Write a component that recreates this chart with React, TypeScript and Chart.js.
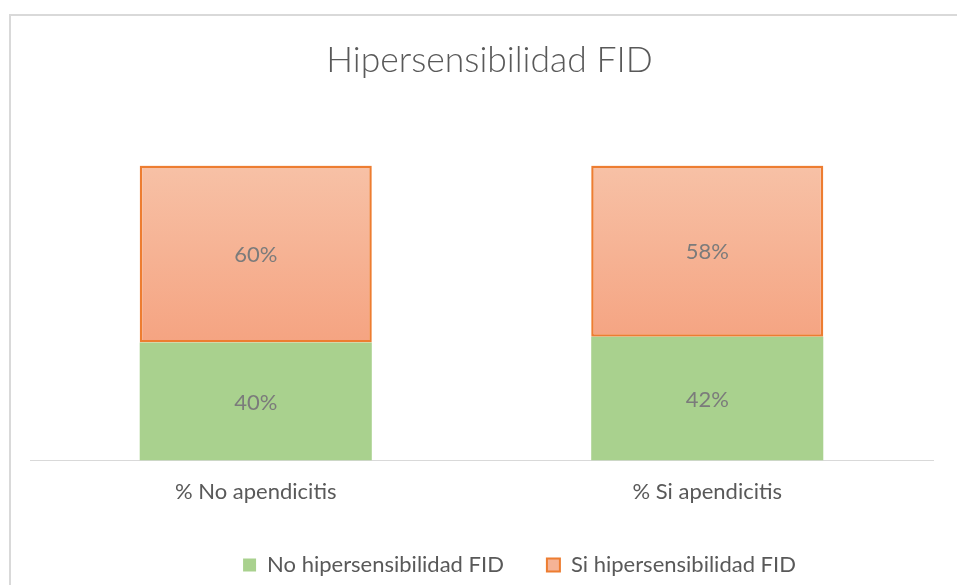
import React, { useEffect, useRef } from "react";
import { Chart, registerables } from "chart.js";

Chart.register(...registerables);

const titleText = "Hipersensibilidad FID";
const categories = ["% No apendicitis", "% Si apendicitis"];
const seriesNames = ["No hipersensibilidad FID", "Si hipersensibilidad FID"];
const noHiperValues = [40, 42];
const siHiperValues = [60, 58];

const FONT = "Lato";
const GREEN = "#A9D18E";
const ORANGE_BORDER = "#ED7D31";
const ORANGE_TOP = "#F7C1A6";
const ORANGE_BOTTOM = "#F5A482";
const TEXT = "#595959";

const framePlugin = {
  id: "frame",
  beforeDraw(chart: any) {
    const { ctx, width, height } = chart;
    ctx.save();
    ctx.fillStyle = "#ffffff";
    ctx.fillRect(0, 0, width, height);
    ctx.strokeStyle = "#d9d9d9";
    ctx.lineWidth = 2;
    ctx.beginPath();
    ctx.moveTo(10, height + 5);
    ctx.lineTo(10, 15);
    ctx.lineTo(width + 5, 15);
    ctx.stroke();
    ctx.restore();
  },
};

const shiftPlugin = {
  id: "shift",
  afterLayout(chart: any) {
    const lg = chart.legend;
    if (lg) {
      lg.left += 38;
      lg.right += 38;
      lg.top -= 12;
      lg.bottom += 30;
    }
    const tb = chart.titleBlock;
    if (tb) {
      tb.left += 8;
      tb.right += 8;
    }
  },
};

const labelPlugin = {
  id: "barLabels",
  afterDatasetsDraw(chart: any) {
    const { ctx } = chart;
    ctx.save();
    ctx.font = `22px ${FONT}`;
    ctx.fillStyle = "#7b7b7b";
    ctx.textAlign = "center";
    ctx.textBaseline = "middle";
    chart.data.datasets.forEach((ds: any, di: number) => {
      const meta = chart.getDatasetMeta(di);
      meta.data.forEach((el: any, i: number) => {
        const v = ds.data[i];
        const cy = (el.y + el.base) / 2 + 1;
        ctx.fillText(`${v}%`, el.x, cy);
      });
    });
    ctx.restore();
  },
};

export default function App() {
  const ref = useRef<HTMLCanvasElement | null>(null);

  useEffect(() => {
    if (!ref.current) return;
    const orangeFill = (c: any) => {
      const chart = c.chart;
      const area = chart.chartArea;
      if (!area) return ORANGE_BOTTOM;
      const y = chart.scales.y;
      const g = chart.ctx.createLinearGradient(0, y.getPixelForValue(100), 0, y.getPixelForValue(41));
      g.addColorStop(0, ORANGE_TOP);
      g.addColorStop(1, ORANGE_BOTTOM);
      return g;
    };
    const chart = new Chart(ref.current, {
      type: "bar",
      data: {
        labels: categories,
        datasets: [
          {
            label: seriesNames[0],
            data: noHiperValues,
            backgroundColor: GREEN,
            borderWidth: 0,
            categoryPercentage: 1,
            barPercentage: 0.514,
          },
          {
            label: seriesNames[1],
            data: siHiperValues,
            backgroundColor: orangeFill,
            borderColor: ORANGE_BORDER,
            borderWidth: 2.5,
            borderSkipped: false,
            categoryPercentage: 1,
            barPercentage: 0.514,
          },
        ],
      },
      options: {
        animation: false,
        responsive: false,
        maintainAspectRatio: false,
        layout: { padding: { left: 30, right: 24, top: 0, bottom: 0 } },
        scales: {
          x: {
            stacked: true,
            grid: { display: false, drawTicks: false },
            border: { display: true, color: "#d9d9d9", width: 1 },
            ticks: {
              color: TEXT,
              font: { family: FONT, size: 22 },
              padding: 18,
            },
          },
          y: {
            stacked: true,
            display: false,
            min: 0,
            max: 100,
          },
        },
        plugins: {
          title: {
            display: true,
            text: titleText,
            color: TEXT,
            font: { family: FONT, size: 35.5, weight: "300" },
            padding: { top: 39, bottom: 84 },
          },
          legend: {
            position: "bottom",
            maxHeight: 62,
            labels: {
              color: TEXT,
              font: { family: FONT, size: 22 },
              boxWidth: 13,
              boxHeight: 13,
              padding: 43,
              generateLabels: () => [
                {
                  text: seriesNames[0],
                  fillStyle: GREEN,
                  strokeStyle: GREEN,
                  lineWidth: 0,
                  fontColor: TEXT,
                  datasetIndex: 0,
                  hidden: false,
                },
                {
                  text: seriesNames[1],
                  fillStyle: "#F5B396",
                  strokeStyle: ORANGE_BORDER,
                  lineWidth: 2,
                  fontColor: TEXT,
                  datasetIndex: 1,
                  hidden: false,
                },
              ],
            },
          },
          tooltip: { enabled: false },
        },
      },
      plugins: [framePlugin, shiftPlugin, labelPlugin],
    });
    return () => chart.destroy();
  }, []);

  return (
    <div style={{ position: "fixed", left: 0, top: 0, width: 957, height: 585 }}>
      <canvas ref={ref} width={957} height={585} style={{ display: "block", width: 957, height: 585 }} />
    </div>
  );
}
